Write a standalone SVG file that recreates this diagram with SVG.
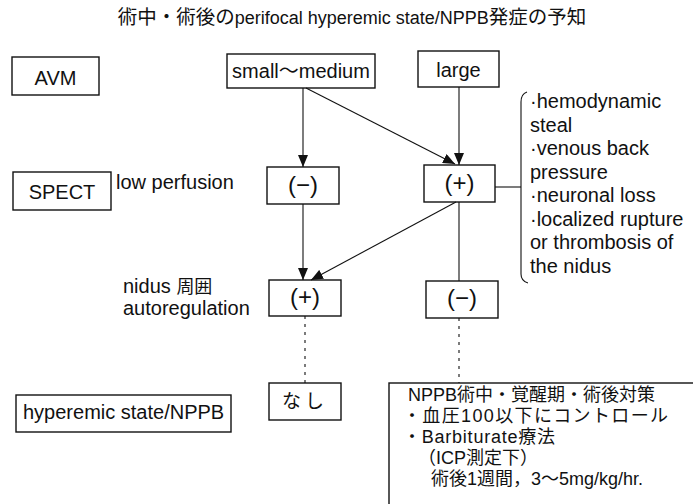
<svg xmlns="http://www.w3.org/2000/svg" width="693" height="504" viewBox="0 0 693 504">
<defs>
<style>
text{font-family:"Liberation Sans","Noto Sans CJK JP",sans-serif;fill:#111;}
.t{font-size:20px;}
.s{font-size:18px;}
.p{font-size:24px;text-anchor:middle;}
.c{text-anchor:middle;}
.box{fill:#fff;stroke:#111;stroke-width:1.4;}
.ln{fill:none;stroke:#111;stroke-width:1.1;}
.dash{fill:none;stroke:#111;stroke-width:1.1;stroke-dasharray:3 5;}
</style>
<marker id="ah" viewBox="0 0 12 10" refX="12" refY="5" markerWidth="12" markerHeight="10" markerUnits="userSpaceOnUse" orient="auto">
<path d="M0,0 L12,5 L0,10 z" fill="#111"/>
</marker>
</defs>
<rect width="693" height="504" fill="#fff"/>
<text id="title" x="352" y="24" class="c" style="font-size:19.5px">術中・術後の<tspan style="font-size:18px">perifocal hyperemic state/NPPB</tspan>発症の予知</text>

<g id="avm"><rect class="box" x="12" y="57" width="87" height="38"/><text class="t c" x="55.5" y="85">AVM</text></g>
<g id="small"><rect class="box" x="227" y="54" width="148" height="34"/><text class="t c" x="301" y="78">small〜medium</text></g>
<g id="large"><rect class="box" x="418" y="51" width="81" height="36"/><text class="t c" x="458.5" y="77">large</text></g>

<g id="spect"><rect class="box" x="13" y="172" width="98" height="38"/><text class="t c" x="62" y="199">SPECT</text></g>
<text id="lowperf" class="t" x="116" y="189">low perfusion</text>
<g id="minus1"><rect class="box" x="267" y="167" width="72" height="37"/><text class="p" x="303" y="193">(−)</text></g>
<g id="plus1"><rect class="box" x="424" y="165" width="71" height="37"/><text class="p" x="459.5" y="191">(+)</text></g>

<g id="reasons">
<path class="ln" d="M527,92 Q521,94 521,102 L521,274 Q521,281 528,283"/>
<text class="t" x="530" y="108">·hemodynamic</text>
<text class="t" x="530" y="131.5">steal</text>
<text class="t" x="530" y="155">·venous back</text>
<text class="t" x="530" y="178.5">pressure</text>
<text class="t" x="530" y="202">·neuronal loss</text>
<text class="t" x="530" y="225.5">·localized rupture</text>
<text class="t" x="530" y="249">or thrombosis of</text>
<text class="t" x="530" y="272.5">the nidus</text>
</g>

<text id="nidus" class="t" x="123" y="293">nidus <tspan style="font-size:18px">周囲</tspan></text>
<text id="autoreg" class="t" x="123" y="315">autoregulation</text>
<g id="plus2"><rect class="box" x="269" y="280" width="72" height="36"/><text class="p" x="305" y="305">(+)</text></g>
<g id="minus2"><rect class="box" x="426" y="281" width="72" height="37"/><text class="p" x="462" y="306">(−)</text></g>

<g id="hyper"><rect class="box" x="16" y="395" width="215" height="37"/><text class="t" x="23" y="419">hyperemic state/NPPB</text></g>
<g id="nashi"><rect class="box" x="269" y="383" width="72" height="37"/><text class="c" x="305" y="408" style="font-size:19px;letter-spacing:4px">なし</text></g>

<g id="nppb">
<rect class="box" x="389" y="383" width="320" height="140"/>
<text class="s" x="408" y="401">NPPB術中・覚醒期・術後対策</text>
<text class="s" x="403" y="422" textLength="265" lengthAdjust="spacing">・血圧100以下にコントロール</text>
<text class="s" x="403" y="443" textLength="152" lengthAdjust="spacing">・Barbiturate療法</text>
<text class="s" x="418" y="464">（ICP測定下）</text>
<text class="s" x="431" y="485">術後1週間，3〜5mg/kg/hr.</text>
</g>

<g id="connectors">
<line class="ln" x1="303" y1="88" x2="303" y2="167" marker-end="url(#ah)"/>
<line class="ln" x1="306" y1="88" x2="455" y2="164" marker-end="url(#ah)"/>
<line class="ln" x1="459" y1="87" x2="459" y2="165" marker-end="url(#ah)"/>
<line class="ln" x1="303" y1="204" x2="303" y2="280" marker-end="url(#ah)"/>
<line class="ln" x1="456" y1="202" x2="311" y2="280" marker-end="url(#ah)"/>
<line class="ln" x1="459" y1="202" x2="459" y2="281"/>
<line class="ln" x1="495" y1="187" x2="521" y2="187"/>
<line class="dash" x1="305" y1="316" x2="305" y2="383"/>
<line class="dash" x1="459" y1="318" x2="459" y2="383"/>
</g>
</svg>
